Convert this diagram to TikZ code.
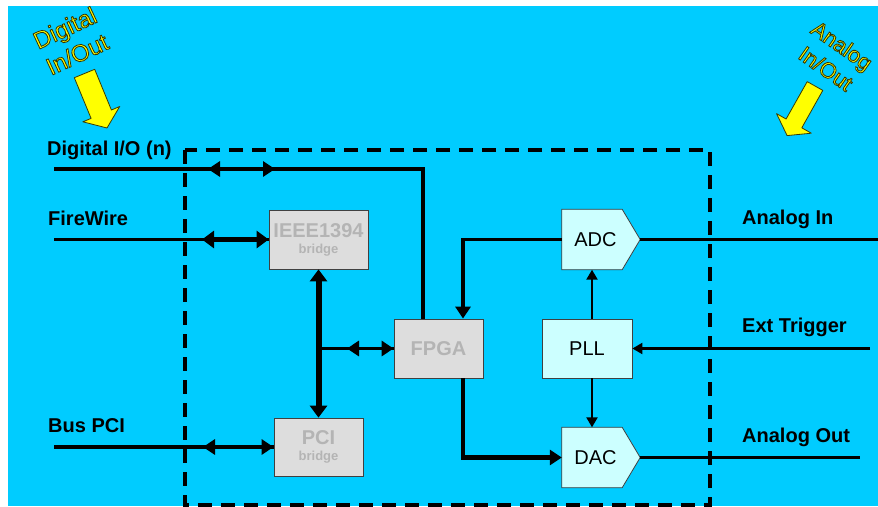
\documentclass[tikz,border=0pt]{standalone}
\usepackage{fontspec}
\setmainfont{Liberation Sans}
\usetikzlibrary{arrows.meta,calc}
\pgfdeclarelayer{bg}
\pgfsetlayers{bg,main}
\definecolor{bgcyan}{HTML}{00CCFF}
\definecolor{boxgray}{HTML}{DDDDDD}
\definecolor{txtgray}{HTML}{B4B4B4}
\definecolor{lightcyan}{HTML}{CCFFFF}
\definecolor{darkol}{HTML}{3A3A00}
\definecolor{yel}{HTML}{FFFF00}
\newcommand{\outlon}{\special{pdf:literal direct 2 Tr 0.8 w 0.2 0.2 0 RG}}
\newcommand{\outloff}{\special{pdf:literal direct 0 Tr}}
\begin{document}
\begin{tikzpicture}[x=1pt,y=-1pt,
  lbl/.style={font=\bfseries\fontsize{20}{24}\selectfont, inner sep=0pt, anchor=base west},
  graybox/.style={draw=black!75, line width=0.8pt, fill=boxgray, text=txtgray, font=\bfseries\fontsize{13}{16}\selectfont, align=center, inner sep=0pt},
  cyanbox/.style={draw=black!75, line width=0.8pt, fill=lightcyan, font=\fontsize{20}{24}\selectfont, inner sep=0pt},
  pentnode/.style={minimum width=60pt, minimum height=60pt, inner sep=0pt, font=\fontsize{20}{24}\selectfont},
  pentshape/.style={draw=black!75, line width=0.8pt, fill=lightcyan},
  wire/.style={line width=3.8pt},
  thinwire/.style={line width=2.2pt},
  dblmid/.style={arrows={Triangle[length=12pt,width=15pt]-Triangle[length=12pt,width=15pt]}},
  dblbig/.style={arrows={Triangle[length=12pt,width=17pt]-Triangle[length=12pt,width=17pt]}},
  tipmid/.style={arrows={-Triangle[length=12pt,width=15pt]}},
  tipsmall/.style={arrows={-Triangle[length=10pt,width=11pt]}},
  dashbox/.style={line width=3.5pt, dash pattern=on 14pt off 9pt},
  yarrow/.style={fill=yel, draw=darkol, line width=0.8pt, line join=round},
  yelltxt/.style={text=yel, align=center, inner sep=0pt}
]
\useasboundingbox (0,0) rectangle (878,506);

% boxes
\node[graybox, minimum width=99pt, minimum height=59pt] (ieee) at (318.5,239.5)
  {{\fontsize{20}{16}\selectfont IEEE1394}\\bridge};
\node[graybox, minimum width=89pt, minimum height=58pt] (pci) at (318.5,447)
  {{\fontsize{20}{16}\selectfont PCI}\\bridge};
\node[graybox, font=\bfseries\fontsize{20}{24}\selectfont, minimum width=89pt, minimum height=59pt] (fpga) at (438.5,348.5) {FPGA};
\node[cyanbox, minimum width=90pt, minimum height=59pt] (pll) at (587,348.5) {PLL};
\node[pentnode] (adc) at (592,239.5) {\hspace*{7pt}ADC};
\node[pentnode] (dac) at (592,457.5) {\hspace*{7pt}DAC};

\begin{pgfonlayer}{bg}
  \fill[white] (0,0) rectangle (878,506);
  \fill[bgcyan] (8,6) rectangle (878,506);
  \draw[pentshape] (adc.north west) -- (adc.north east) -- ([xshift=18pt]adc.east)
    -- (adc.south east) -- (adc.south west) -- cycle;
  \draw[pentshape] (dac.north west) -- (dac.north east) -- ([xshift=18pt]dac.east)
    -- (dac.south east) -- (dac.south west) -- cycle;
\end{pgfonlayer}

% dashed board outline
\draw[dashbox] (185,150) rectangle (710,505);

% labels
\node[lbl] (lDIO) at (47,155) {Digital I/O (n)};
\node[lbl] (lFW) at (48,225) {FireWire};
\node[lbl] (lBus) at (48,432) {Bus PCI};
\node[lbl] (lAI) at (742,224) {Analog In};
\node[lbl] (lET) at (742,332) {Ext Trigger};
\node[lbl] (lAO) at (742,442) {Analog Out};

% digital I/O
\coordinate (dioL) at (54,169);
\draw[wire] (dioL) -| ([xshift=-15.5pt]fpga.north);
\coordinate (dioA) at (208,169);
\coordinate (dioB) at (275,169);
\draw[wire, dblmid] (dioA) -- (dioB);

% FireWire
\coordinate (fwL) at (54,239.5);
\draw[wire] (fwL) -- (ieee.west);
\coordinate (fwA) at (202,239.5);
\draw[line width=5pt, dblbig] (fwA) -- (ieee.west);

% Bus PCI
\coordinate (pciL) at (54,447);
\draw[wire] (pciL) -- (pci.west);
\coordinate (pciA) at (203,447);
\draw[wire, dblmid] (pciA) -- (pci.west);

% internal bus
\draw[line width=6pt, dblbig] (ieee.south) -- (pci.north);
\draw[wire] (ieee.south |- fpga.west) -- (fpga.west);
\coordinate (brA) at (347,348.5);
\draw[wire, dblmid] (brA) -- (fpga.west);

% ADC / DAC paths
\draw[wire, tipmid] (adc.west) -| ([xshift=24.5pt]fpga.north);
\draw[line width=4.5pt, tipmid] ([xshift=24.5pt]fpga.south) |- (dac.west);
\draw[thinwire, tipsmall] (pll.north -| adc.south) -- (adc.south);
\draw[thinwire, tipsmall] (pll.south -| dac.north) -- (dac.north);
\coordinate (etR) at (870,348.5);
\draw[thinwire, tipsmall] (etR) -- (pll.east);
\coordinate (aiR) at (878,239.5);
\draw[thinwire] ([xshift=18pt]adc.east) -- (aiR);
\coordinate (aoR) at (860,457.5);
\draw[thinwire] ([xshift=18pt]dac.east) -- (aoR);

% yellow arrows
\draw[yarrow] (74.3,77.7) -- (91.1,118.4) -- (82.8,121.8) -- (107.0,128.0)
  -- (119.7,106.5) -- (111.4,110.0) -- (94.7,69.3) -- cycle;
\draw[yarrow] (807.2,81.6) -- (786.1,119.0) -- (776.5,113.6) -- (787.1,135.6)
  -- (811.3,133.2) -- (801.8,127.8) -- (822.8,90.4) -- cycle;

% yellow outlined captions
\node[yelltxt, font=\fontsize{24}{29}\selectfont, rotate=25] (dgtxt) at (71,41)
  {\outlon Digital\outloff\\\outlon In/Out\outloff};
\node[yelltxt, font=\fontsize{22}{28}\selectfont, rotate=-35] (antxt) at (834,57)
  {\outlon Analog\outloff\\\outlon In/Out\outloff};
\end{tikzpicture}
\end{document}
